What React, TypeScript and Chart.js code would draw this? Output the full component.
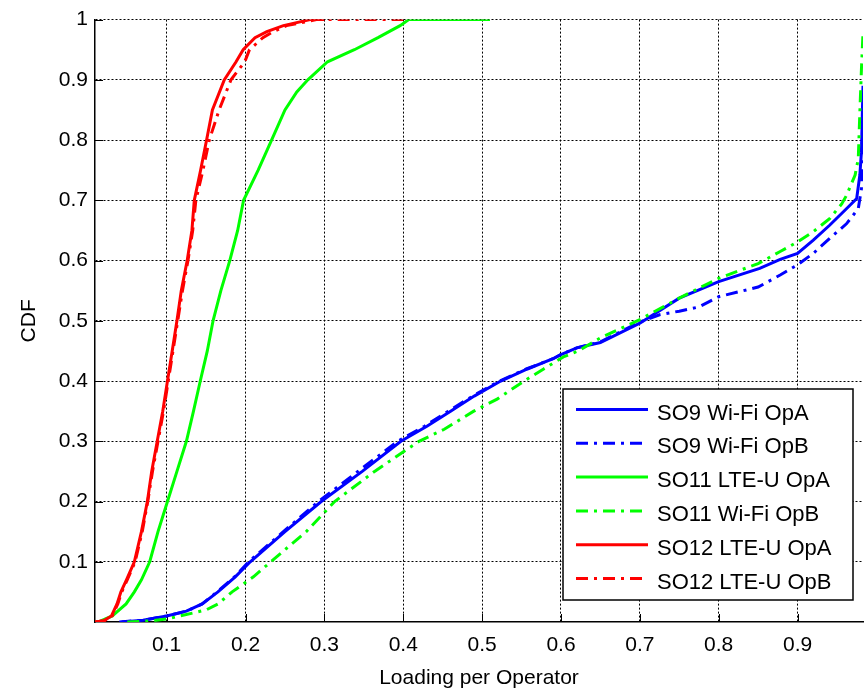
import React, { useEffect, useRef } from 'react';
import { Chart, registerables } from 'chart.js';

Chart.register(...registerables);

const FONT = "'Liberation Sans', Arial, Helvetica, sans-serif";

// Axis ticks
const xTickValues = [0.1, 0.2, 0.3, 0.4, 0.5, 0.6, 0.7, 0.8, 0.9];
const yTickValues = [0.1, 0.2, 0.3, 0.4, 0.5, 0.6, 0.7, 0.8, 0.9, 1.0];
const xMin = 0.0091;
const xMax = 0.983;

// Series labels
const seriesLabels = [
  'SO9 Wi-Fi OpA',
  'SO9 Wi-Fi OpB',
  'SO11 LTE-U OpA',
  'SO11 Wi-Fi OpB',
  'SO12 LTE-U OpA',
  'SO12 LTE-U OpB',
];

// SO9 Wi-Fi OpA
const so9OpAX = [0.043, 0.07, 0.1, 0.125, 0.145, 0.165, 0.187, 0.206, 0.25, 0.296, 0.348, 0.397, 0.43, 0.46, 0.49, 0.5236, 0.5574, 0.59, 0.6, 0.62, 0.65, 0.7, 0.75, 0.8, 0.852, 0.878, 0.9, 0.92, 0.941, 0.962, 0.975, 0.979, 0.981, 0.983, 0.9835, 0.984];
const so9OpAY = [0, 0.003, 0.01, 0.018, 0.03, 0.05, 0.075, 0.1, 0.15, 0.2, 0.25, 0.3, 0.325, 0.35, 0.375, 0.4, 0.42, 0.437, 0.444, 0.455, 0.464, 0.496, 0.5376, 0.565, 0.587, 0.602, 0.612, 0.634, 0.659, 0.686, 0.703, 0.742, 0.78, 0.89, 0.97, 1.0];

// SO9 Wi-Fi OpB
const so9OpBX = [0.04, 0.07, 0.1, 0.125, 0.145, 0.164, 0.186, 0.204, 0.248, 0.2925, 0.3425, 0.393, 0.427, 0.457, 0.488, 0.522, 0.556, 0.59, 0.6, 0.62, 0.65, 0.7, 0.725, 0.75, 0.775, 0.8, 0.85, 0.878, 0.9, 0.92, 0.941, 0.962, 0.977, 0.981, 0.983, 0.984];
const so9OpBY = [0, 0.003, 0.01, 0.018, 0.03, 0.05, 0.075, 0.1, 0.15, 0.2, 0.25, 0.3, 0.325, 0.35, 0.375, 0.4, 0.42, 0.437, 0.444, 0.455, 0.465, 0.498, 0.51, 0.516, 0.523, 0.54, 0.556, 0.576, 0.593, 0.612, 0.637, 0.661, 0.686, 0.719, 0.85, 1.0];

// SO11 LTE-U OpA
const so11OpAX = [0.0091, 0.015, 0.031, 0.0485, 0.059, 0.068, 0.0785, 0.089, 0.101, 0.113, 0.125, 0.134, 0.1426, 0.1515, 0.1588, 0.1687, 0.18, 0.19, 0.1975, 0.216, 0.233, 0.25, 0.265, 0.279, 0.304, 0.338, 0.368, 0.396, 0.407, 0.51];
const so11OpAY = [0, 0.001, 0.01, 0.03, 0.05, 0.07, 0.1, 0.15, 0.2, 0.25, 0.3, 0.35, 0.4, 0.45, 0.5, 0.55, 0.6, 0.65, 0.7, 0.75, 0.8, 0.85, 0.88, 0.9, 0.93, 0.95, 0.97, 0.99, 1.0, 1.0];

// SO11 Wi-Fi OpB
const so11OpBX = [0.05, 0.08, 0.1, 0.117, 0.15, 0.165, 0.183, 0.21, 0.232, 0.277, 0.313, 0.3636, 0.42, 0.452, 0.4894, 0.519, 0.5532, 0.578, 0.603, 0.622, 0.65, 0.7, 0.75, 0.8, 0.85, 0.878, 0.9, 0.92, 0.941, 0.956, 0.962, 0.973, 0.977, 0.979, 0.981, 0.983];
const so11OpBY = [0, 0.002, 0.005, 0.01, 0.02, 0.03, 0.05, 0.075, 0.1, 0.15, 0.2, 0.25, 0.3, 0.32, 0.35, 0.37, 0.4, 0.42, 0.44, 0.45, 0.4716, 0.502, 0.5376, 0.5706, 0.595, 0.615, 0.631, 0.648, 0.67, 0.694, 0.708, 0.742, 0.769, 0.846, 0.917, 0.978];

// SO12 LTE-U OpA
const so12OpAX = [0.0091, 0.02, 0.03, 0.037, 0.042, 0.049, 0.059, 0.068, 0.0755, 0.081, 0.088, 0.095, 0.101, 0.107, 0.113, 0.1185, 0.126, 0.132, 0.135, 0.143, 0.1506, 0.158, 0.173, 0.188, 0.197, 0.212, 0.227, 0.248, 0.282, 0.3];
const so12OpAY = [0, 0.002, 0.01, 0.03, 0.05, 0.07, 0.1, 0.15, 0.2, 0.25, 0.3, 0.35, 0.4, 0.45, 0.5, 0.55, 0.6, 0.65, 0.7, 0.75, 0.8, 0.85, 0.9, 0.93, 0.95, 0.97, 0.98, 0.99, 1.0, 1.0];

// SO12 LTE-U OpB
const so12OpBX = [0.0091, 0.021, 0.031, 0.038, 0.043, 0.05, 0.06, 0.069, 0.076, 0.082, 0.089, 0.096, 0.102, 0.108, 0.114, 0.12, 0.127, 0.133, 0.137, 0.146, 0.154, 0.1665, 0.1815, 0.199, 0.205, 0.222, 0.235, 0.252, 0.29, 0.4];
const so12OpBY = [0, 0.002, 0.01, 0.03, 0.05, 0.07, 0.1, 0.15, 0.2, 0.25, 0.3, 0.35, 0.4, 0.45, 0.5, 0.55, 0.6, 0.65, 0.7, 0.75, 0.8, 0.85, 0.9, 0.93, 0.95, 0.97, 0.98, 0.99, 1.0, 1.0];

const seriesX = [so9OpAX, so9OpBX, so11OpAX, so11OpBX, so12OpAX, so12OpBX];
const seriesY = [so9OpAY, so9OpBY, so11OpAY, so11OpBY, so12OpAY, so12OpBY];

// Styles
const seriesColors = ['#0000ff', '#0000ff', '#00ff00', '#00ff00', '#ff0000', '#ff0000'];
const seriesDashed = [false, true, false, true, false, true];
const DASH_DOT = [12, 6, 3, 6];

const insideTicksPlugin = {
  id: 'insideTicks',
  beforeDatasetsDraw(chart: any) {
    const { ctx, chartArea, scales } = chart;
    const len = 8;
    ctx.save();
    ctx.strokeStyle = '#000';
    ctx.lineWidth = 1;
    ctx.setLineDash([]);
    ctx.beginPath();
    for (const v of xTickValues) {
      const px = Math.round(scales.x.getPixelForValue(v)) + 0.5;
      ctx.moveTo(px, chartArea.bottom);
      ctx.lineTo(px, chartArea.bottom - len);
    }
    for (const v of yTickValues) {
      const py = Math.round(scales.y.getPixelForValue(v)) + 0.5;
      ctx.moveTo(chartArea.left, py);
      ctx.lineTo(chartArea.left + len, py);
    }
    ctx.stroke();
    ctx.restore();
  },
};

const boxLegendPlugin = {
  id: 'boxLegend',
  afterDatasetsDraw(chart: any) {
    const { ctx, chartArea } = chart;
    const w = 290;
    const h = 211;
    const bx = chartArea.right - 10 - w;
    const by = chartArea.bottom - 22 - h;
    ctx.save();
    ctx.fillStyle = '#ffffff';
    ctx.fillRect(bx, by, w, h);
    ctx.strokeStyle = '#000';
    ctx.lineWidth = 1.5;
    ctx.setLineDash([]);
    ctx.strokeRect(bx, by, w, h);
    const rowH = 33.8;
    seriesLabels.forEach((label, i) => {
      const cy = by + 20.5 + i * rowH;
      ctx.beginPath();
      ctx.strokeStyle = seriesColors[i];
      ctx.lineWidth = 3;
      ctx.setLineDash(seriesDashed[i] ? DASH_DOT : []);
      ctx.moveTo(bx + 13, cy);
      ctx.lineTo(bx + 85, cy);
      ctx.stroke();
      ctx.setLineDash([]);
      ctx.fillStyle = '#000';
      ctx.font = `22px ${FONT}`;
      ctx.textAlign = 'left';
      ctx.textBaseline = 'alphabetic';
      ctx.fillText(label, bx + 94, cy + 10);
    });
    ctx.restore();
  },
};

export default function App() {
  const canvasRef = useRef<HTMLCanvasElement | null>(null);

  useEffect(() => {
    const canvas = canvasRef.current;
    if (!canvas) return;
    const datasets = seriesLabels.map((label, i) => ({
      label,
      data: seriesX[i].map((x, j) => ({ x, y: seriesY[i][j] })),
      borderColor: seriesColors[i],
      backgroundColor: seriesColors[i],
      borderWidth: 3,
      borderDash: seriesDashed[i] ? DASH_DOT : [],
      pointRadius: 0,
      tension: 0,
      fill: false,
      order: seriesLabels.length - i,
    }));

    const tickFont = { family: FONT, size: 21 };

    const chart = new Chart(canvas, {
      type: 'line',
      data: { datasets },
      options: {
        animation: false,
        responsive: false,
        devicePixelRatio: 1,
        layout: { padding: { top: 16, right: 2, left: 0, bottom: 0 } },
        plugins: {
          legend: { display: false },
          tooltip: { enabled: false },
        },
        scales: {
          x: {
            type: 'linear',
            min: xMin,
            max: xMax,
            afterBuildTicks: (s: any) => {
              s.ticks = xTickValues.map((v) => ({ value: v }));
            },
            afterFit: (s: any) => {
              s.height = 67;
            },
            grid: { color: '#000', lineWidth: 1, drawTicks: false },
            border: { display: true, color: '#000', width: 1.5, dash: [2, 2] },
            ticks: {
              font: tickFont,
              color: '#000',
              padding: 11,
              maxRotation: 0,
              autoSkip: false,
              callback: (v: any) => String(Math.round(Number(v) * 10) / 10),
            },
            title: {
              display: true,
              text: 'Loading per Operator',
              color: '#000',
              font: { family: FONT, size: 21, lineHeight: 1.0 },
              padding: { top: 0, bottom: 0.5 },
            },
          },
          y: {
            type: 'linear',
            min: 0,
            max: 1,
            afterBuildTicks: (s: any) => {
              s.ticks = yTickValues.map((v) => ({ value: v }));
            },
            afterFit: (s: any) => {
              s.width = 95;
            },
            grid: { color: '#000', lineWidth: 1, drawTicks: false },
            border: { display: true, color: '#000', width: 1.5, dash: [2, 2] },
            ticks: {
              font: tickFont,
              color: '#000',
              padding: 7,
              autoSkip: false,
              callback: (v: any) => String(Math.round(Number(v) * 10) / 10),
            },
            title: {
              display: true,
              text: 'CDF',
              color: '#000',
              font: { family: FONT, size: 21 },
              padding: { top: 17, bottom: 0 },
            },
          },
        },
      },
      plugins: [insideTicksPlugin, boxLegendPlugin],
    } as any);

    return () => {
      chart.destroy();
    };
  }, []);

  return (
    <div style={{ position: 'absolute', left: 0, top: 0, width: 865, height: 689, background: '#fff' }}>
      <canvas ref={canvasRef} width={865} height={689} style={{ display: 'block' }} />
    </div>
  );
}
